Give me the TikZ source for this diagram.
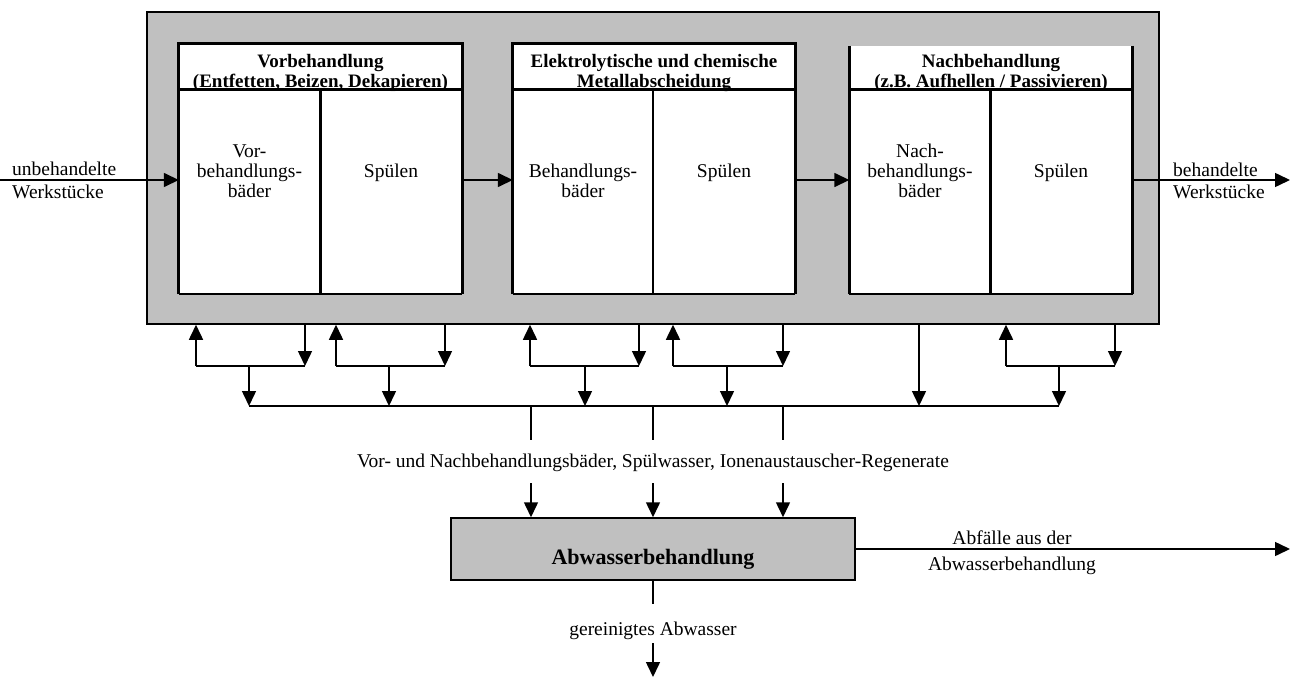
\documentclass[tikz,border=0pt]{standalone}
\usepackage{fontspec}
\setmainfont{Liberation Serif}
\usetikzlibrary{arrows.meta}
\definecolor{panelgray}{RGB}{192,192,192}
\begin{document}
\begin{tikzpicture}[x=1pt,y=-1pt,
  txt/.style={anchor=base,inner sep=0pt,font=\fontsize{19.5}{22}\selectfont},
  head/.style={anchor=base,inner sep=0pt,font=\fontsize{19}{21}\selectfont\bfseries},
  conn/.style={line width=1.5pt},
  arr/.style={conn,-{Triangle[length=15pt,width=14pt]}},
  stagebox/.style={draw=none,fill=white,inner sep=0pt,minimum width=283pt,minimum height=250pt},
  edge/.style={line width=3pt},
  panel/.style={draw,fill=panelgray,line width=1.5pt,inner sep=0pt},
]
\useasboundingbox (0,0) rectangle (1292,677);

% plant enclosure
\node[panel,minimum width=1012pt,minimum height=312pt] (plant) at (653,168) {};

% process stages
\node[stagebox] (s1) at (320.5,169) {};
\node[stagebox,minimum width=282pt] (s2) at (654,169) {};
\node[stagebox,minimum height=248pt] (s3) at (991,170) {};

% header rules and stage texts
\coordinate (hl) at (0,89);
\coordinate (flow) at (0,180);

\node[head] (h1a) at (320.5,67) {Vorbehandlung};
\node[head] (h1b) at (320.5,87) {(Entfetten, Beizen, Dekapieren)};
\node[head] (h2a) at (654,67) {Elektrolytische und chemische};
\node[head] (h2b) at (654,87) {Metallabscheidung};
\node[head] (h3a) at (991,67) {Nachbehandlung};
\node[head] (h3b) at (991,87) {(z.B. Aufhellen / Passivieren)};

\node[txt] (b1a) at (249.5,157) {Vor-};
\node[txt] (b1b) at (249.5,177) {behandlungs-};
\node[txt] (b1c) at (249.5,197) {bäder};
\node[txt] (r1)  at (391,177) {Spülen};
\node[txt] (b2a) at (583,177) {Behandlungs-};
\node[txt] (b2b) at (583,197) {bäder};
\node[txt] (r2)  at (724,177) {Spülen};
\node[txt] (b3a) at (920,157) {Nach-};
\node[txt] (b3b) at (920,177) {behandlungs-};
\node[txt] (b3c) at (920,197) {bäder};
\node[txt] (r3)  at (1061,177) {Spülen};

% stage outlines
\draw[edge] (s1.south west) -- (s1.north west) -- (s1.north east) -- (s1.south east);
\draw[line width=2pt] (s1.south west) -- (s1.south east);
\draw[edge] (s1.west |- hl) -- (s1.east |- hl);
\draw[edge] (s1.north |- hl) -- (s1.south);

\draw[edge] (s2.south west) -- (s2.north west) -- (s2.north east) -- (s2.south east);
\draw[line width=2pt] (s2.south west) -- (s2.south east);
\draw[edge] (s2.west |- hl) -- (s2.east |- hl);
\draw[line width=2pt] (653,89) -- (653,294);

\draw[edge] (s3.north west) -- (s3.south west);
\draw[edge] (s3.north east) -- (s3.south east);
\draw[line width=2pt] (s3.south west) -- (s3.south east);
\draw[edge] (s3.west |- hl) -- (s3.east |- hl);
\draw[edge] (990,89) -- (990,294);

% workpiece flow
\coordinate (in) at (0,180);
\coordinate (out) at (1290,180);
\draw[arr] (in) -- (in -| s1.west);
\draw[arr] (s1.east |- flow) -- (s2.west |- flow);
\draw[arr] (s2.east |- flow) -- (s3.west |- flow);
\draw[arr] (s3.east |- flow) -- (out);
\node[txt,anchor=base west] (inA) at (12,175) {unbehandelte};
\node[txt,anchor=base west] (inB) at (12,198) {Werkstücke};
\node[txt,anchor=base west] (outA) at (1173,176) {behandelte};
\node[txt,anchor=base west] (outB) at (1173,198) {Werkstücke};

% exchange with the baths
\coordinate (bus) at (0,406);
\foreach \u/\d/\m [count=\i] in {196/305/249, 336/445/389, 530/639/585, 673/783/727, 1006/1115/1059} {
  \coordinate (ju\i) at (\u,366);
  \coordinate (jd\i) at (\d,366);
  \coordinate (jm\i) at (\m,366);
  \draw[arr] (ju\i) -- (ju\i |- plant.south);
  \draw[arr] (jd\i |- plant.south) -- (jd\i);
  \draw[conn] (ju\i) -- (jd\i);
  \draw[arr] (jm\i) -- (jm\i |- bus);
}
\coordinate (jx) at (919,406);
\draw[arr] (jx |- plant.south) -- (jx);
\draw[conn] (jm1 |- bus) -- (jm5 |- bus);

% waste water treatment
\node[panel,minimum width=404pt,minimum height=62pt] (ww) at (653,549) {};
\node[anchor=base,inner sep=0pt,font=\fontsize{22}{24}\selectfont\bfseries] (wwt) at (653,564) {Abwasserbehandlung};

\node[txt] (mix) at (653,467) {Vor- und Nachbehandlungsbäder, Spülwasser, Ionenaustauscher-Regenerate};
\foreach \x/\n in {531/a, 653/b, 783/c} {
  \coordinate (q\n) at (\x,440);
  \coordinate (p\n) at (\x,483);
  \draw[conn] (q\n |- bus) -- (q\n);
  \draw[arr] (p\n) -- (p\n |- ww.north);
}

\coordinate (waste) at (1290,549);
\draw[arr] (ww.east) -- (waste);
\node[txt] (wa) at (1012,544) {Abfälle aus der};
\node[txt] (wb) at (1012,570) {Abwasserbehandlung};

\coordinate (g1) at (653,604);
\coordinate (g2) at (653,643);
\coordinate (g3) at (653,677);
\draw[conn] (ww.south) -- (g1);
\node[txt] (clean) at (653,635) {gereinigtes Abwasser};
\draw[arr] (g2) -- (g3);
\end{tikzpicture}
\end{document}
